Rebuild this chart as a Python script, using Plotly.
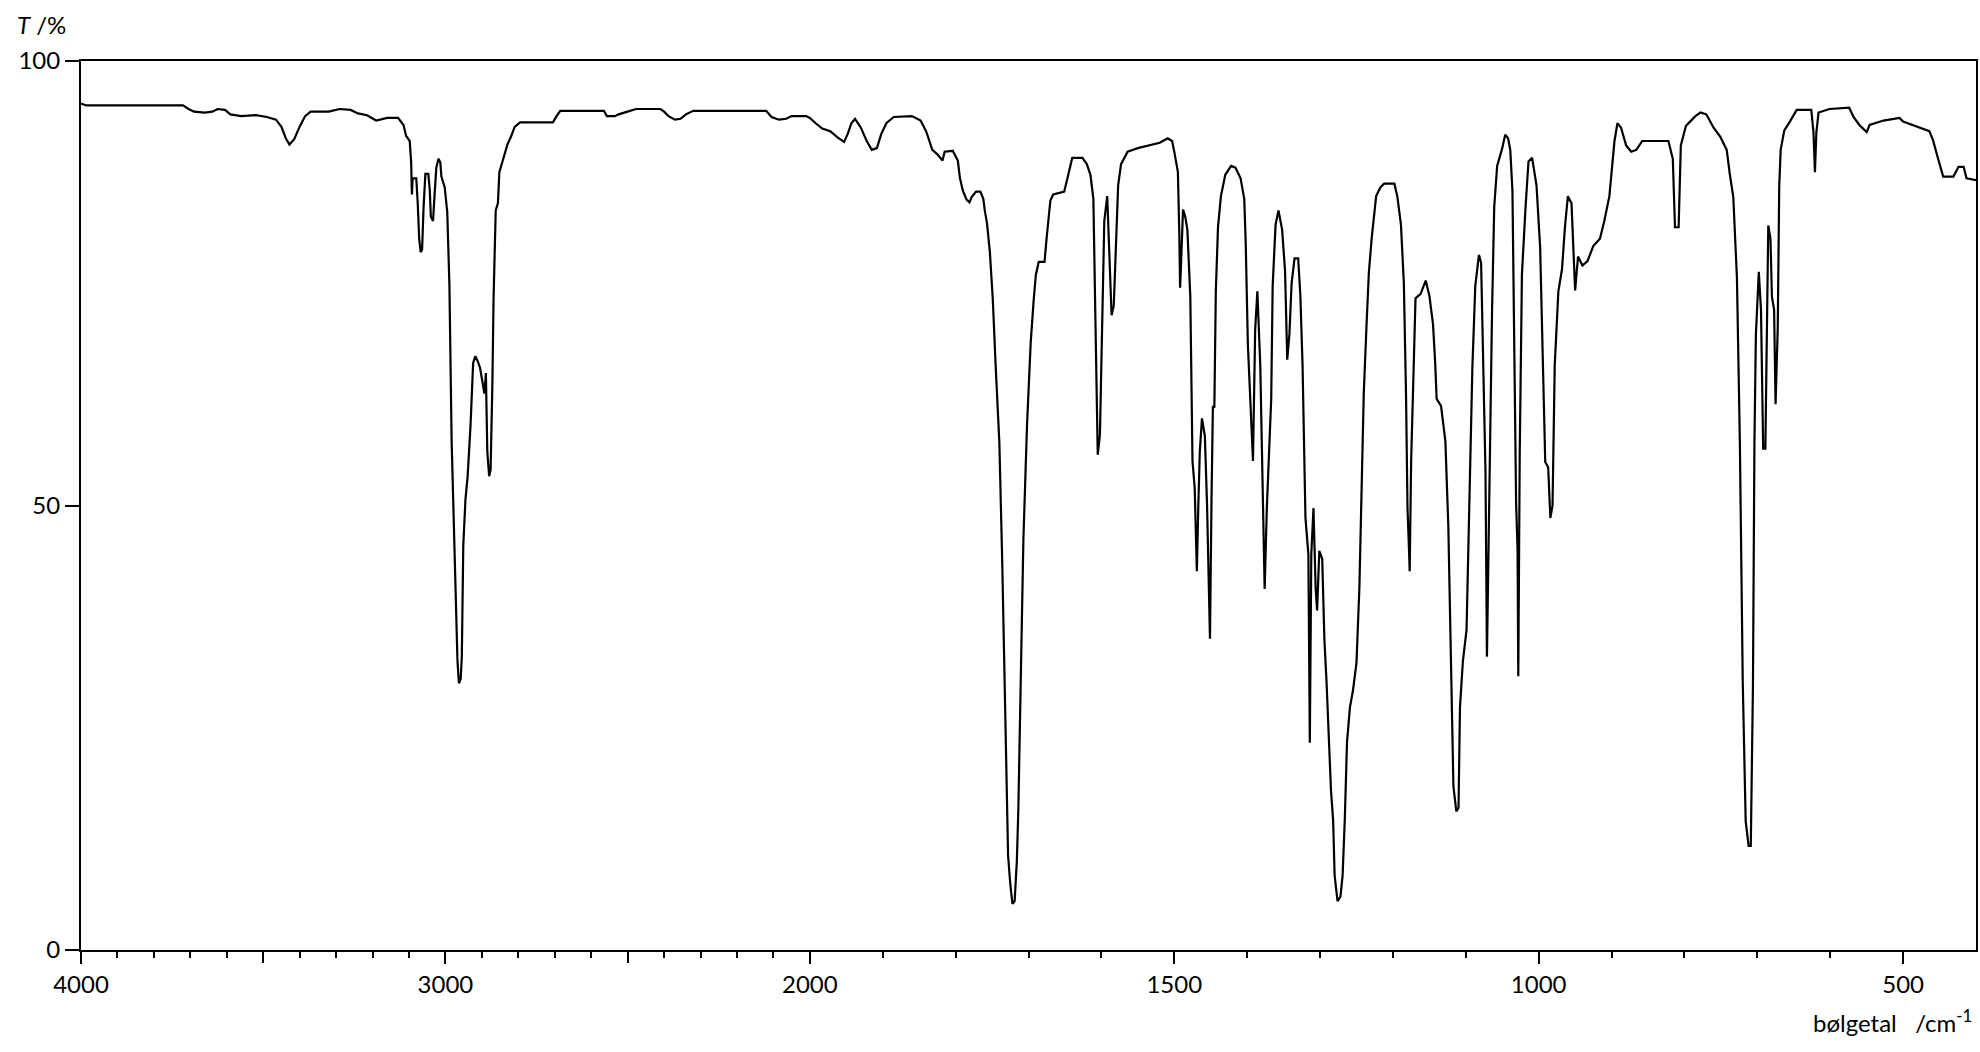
import numpy as np
import plotly.graph_objects as go

# ---- data ----
wavenumber = [
    4000, 3985, 3720, 3705, 3690, 3660, 3640, 3625, 3605, 3590, 3560, 3520, 3490, 3465, 3450, 3438, 3428, 3415,
    3400, 3385, 3370, 3320, 3290, 3260, 3240, 3215, 3190, 3160, 3130, 3115, 3108, 3098, 3094, 3092, 3090, 3080,
    3076, 3072, 3068, 3064, 3060, 3055, 3047, 3043, 3040, 3034, 3030, 3025, 3019, 3014, 3011, 3002, 2995, 2989,
    2983, 2976, 2972, 2967, 2963, 2958, 2955, 2951, 2945, 2939, 2931, 2924, 2918, 2912, 2905, 2898, 2893, 2889,
    2885, 2880, 2876, 2871, 2868, 2862, 2856, 2852, 2845, 2840, 2830, 2820, 2810, 2795, 2705, 2695, 2685, 2565,
    2557, 2535, 2525, 2500, 2477, 2410, 2400, 2388, 2370, 2355, 2340, 2320, 2120, 2105, 2085, 2065, 2050, 2010,
    2000, 1992, 1983, 1972, 1962, 1953, 1948, 1943, 1938, 1930, 1922, 1915, 1908, 1902, 1895, 1885, 1860, 1848,
    1840, 1832, 1825, 1818, 1815, 1804, 1800, 1797, 1794, 1790, 1785, 1781, 1778, 1772, 1766, 1762, 1760, 1757,
    1753, 1749, 1745, 1740, 1736, 1732, 1728, 1725, 1722, 1719, 1716, 1714, 1711, 1707, 1702, 1697, 1693, 1690,
    1686, 1678, 1675, 1670, 1666, 1651, 1646, 1640, 1626, 1620, 1615, 1611, 1608, 1605, 1602, 1599, 1596, 1592,
    1589, 1586, 1583, 1580, 1577, 1573, 1564, 1550, 1535, 1520, 1509, 1503, 1500, 1495, 1493, 1492, 1491, 1488,
    1485, 1482, 1478, 1475, 1472, 1469, 1467, 1465, 1462, 1458, 1455, 1451, 1449, 1447, 1445, 1443, 1440, 1436,
    1430, 1422, 1416, 1409, 1404, 1402, 1399, 1395, 1392, 1389, 1386, 1382, 1378, 1376, 1373, 1370, 1367, 1365,
    1361, 1357, 1352, 1348, 1345, 1342, 1339, 1335, 1330, 1327, 1324, 1320, 1316, 1314, 1312, 1309, 1306, 1304,
    1301, 1297, 1294, 1291, 1288, 1285, 1282, 1280, 1276, 1272, 1269, 1266, 1263, 1259, 1255, 1250, 1246, 1243,
    1240, 1236, 1233, 1229, 1226, 1223, 1217, 1212, 1198, 1194, 1189, 1185, 1182, 1180, 1178, 1177, 1175, 1172,
    1169, 1162, 1155, 1150, 1145, 1142, 1140, 1134, 1128, 1124, 1120, 1117, 1113, 1110, 1108, 1104, 1099, 1095,
    1091, 1087, 1082, 1079, 1076, 1073, 1071, 1069, 1067, 1064, 1061, 1057, 1050, 1046, 1042, 1039, 1036, 1033,
    1031, 1029, 1028, 1026, 1023, 1018, 1014, 1009, 1003, 998, 995, 991, 987, 984, 981, 978, 973, 968,
    964, 960, 955, 950, 946, 940, 933, 925, 916, 910, 903, 899, 896, 892, 887, 880, 873, 866,
    858, 822, 816, 813, 808, 805, 798, 785, 778, 770, 760, 751, 742, 738, 733, 728, 724, 720,
    716, 712, 709, 706, 704, 702, 698, 695, 692, 689, 687, 685, 682, 680, 677, 675, 672, 670,
    668, 663, 656, 646, 626, 623, 621, 619, 616, 601, 574, 568, 560, 550, 546, 527, 505, 500,
    464, 459, 452, 445, 431, 424, 417, 413, 400,
]

transmittance = [
    95.2, 95.0, 95.0, 94.6, 94.3, 94.2, 94.3, 94.6, 94.5, 94.0, 93.8, 93.9, 93.7, 93.4, 92.6, 91.3, 90.6, 91.2,
    92.6, 93.8, 94.3, 94.3, 94.6, 94.5, 94.1, 93.9, 93.3, 93.6, 93.6, 92.8, 91.6, 91.0, 88.6, 85.0, 86.8, 86.8,
    84.0, 80.0, 78.5, 78.8, 83.5, 87.3, 87.3, 85.5, 82.5, 82.0, 84.8, 88.0, 89.0, 88.6, 87.0, 85.8, 83.0, 74.7,
    57.3, 45.0, 38.9, 32.6, 30.0, 30.5, 33.0, 45.5, 50.7, 53.3, 59.1, 66.0, 66.8, 66.3, 65.5, 63.5, 62.6, 64.9,
    56.0, 53.3, 54.0, 64.0, 73.1, 83.2, 84.0, 87.5, 88.5, 89.3, 90.6, 91.5, 92.6, 93.1, 93.1, 93.8, 94.4, 94.4,
    93.8, 93.8, 94.0, 94.3, 94.6, 94.6, 94.3, 93.8, 93.4, 93.5, 94.0, 94.4, 94.4, 93.7, 93.4, 93.5, 93.8, 93.8,
    93.6, 93.0, 92.4, 92.1, 91.4, 90.9, 91.8, 93.0, 93.5, 92.5, 91.0, 90.0, 90.2, 91.8, 93.0, 93.7, 93.8, 93.3,
    92.0, 90.0, 89.5, 88.8, 89.8, 89.9, 89.2, 88.8, 86.8, 85.4, 84.4, 84.1, 84.7, 85.3, 85.3, 84.5, 83.2, 81.8,
    78.5, 73.2, 65.6, 57.1, 43.5, 25.6, 10.6, 7.4, 5.2, 5.5, 10.0, 15.6, 29.0, 46.2, 59.1, 68.3, 73.0, 75.9,
    77.4, 77.4, 80.2, 84.3, 85.0, 85.3, 87.0, 89.1, 89.1, 88.4, 87.2, 84.5, 70.0, 55.7, 58.0, 68.5, 82.0, 84.8,
    78.0, 71.4, 72.5, 80.0, 86.0, 88.4, 89.8, 90.2, 90.5, 90.8, 91.3, 91.0, 89.8, 87.5, 80.2, 74.5, 76.5, 83.3,
    82.5, 81.0, 73.5, 55.0, 52.0, 42.6, 50.0, 56.0, 59.8, 57.8, 50.0, 35.0, 50.0, 61.2, 61.0, 74.1, 81.3, 84.8,
    87.2, 88.2, 88.0, 86.8, 84.5, 79.6, 68.1, 60.0, 55.0, 69.8, 74.1, 65.8, 47.5, 40.6, 49.7, 55.5, 62.0, 74.7,
    81.6, 83.2, 81.0, 76.4, 66.4, 69.3, 75.0, 77.8, 77.8, 73.6, 65.8, 48.6, 44.5, 23.3, 44.5, 49.7, 40.6, 38.2,
    44.9, 44.0, 34.9, 30.0, 24.2, 18.0, 14.5, 8.4, 5.5, 6.0, 8.4, 14.8, 23.4, 27.3, 29.1, 32.3, 40.8, 52.6,
    62.6, 70.7, 76.2, 80.2, 82.2, 84.8, 85.8, 86.2, 86.2, 84.8, 81.6, 75.0, 62.4, 49.7, 45.2, 42.6, 55.0, 64.7,
    73.3, 73.8, 75.3, 73.6, 70.4, 66.0, 62.0, 61.2, 57.2, 47.7, 30.3, 18.4, 15.6, 16.0, 27.3, 32.5, 36.0, 50.3,
    65.5, 74.7, 78.2, 77.3, 67.0, 53.8, 33.0, 45.0, 53.8, 71.9, 83.6, 88.2, 90.2, 91.7, 91.3, 90.0, 85.4, 65.7,
    50.3, 45.0, 30.8, 56.0, 76.0, 83.6, 88.7, 89.1, 86.0, 79.0, 68.0, 54.9, 54.3, 48.6, 50.0, 65.8, 74.1, 76.6,
    81.3, 84.8, 84.0, 74.2, 78.0, 77.0, 77.5, 79.2, 80.0, 82.0, 84.8, 88.0, 91.0, 93.0, 92.5, 90.5, 89.8, 90.0,
    91.0, 91.0, 89.0, 81.3, 81.3, 90.5, 92.7, 93.8, 94.2, 94.0, 92.5, 91.5, 90.0, 87.4, 84.7, 75.6, 57.2, 30.0,
    14.5, 11.7, 11.7, 30.0, 57.0, 69.2, 76.3, 72.0, 56.4, 56.4, 70.0, 81.5, 80.0, 73.5, 72.0, 61.4, 70.0, 85.8,
    90.0, 92.2, 93.1, 94.5, 94.5, 92.0, 87.5, 92.0, 94.2, 94.6, 94.75, 93.7, 92.8, 92.0, 92.8, 93.3, 93.6, 93.2,
    92.1, 91.1, 89.0, 87.0, 87.0, 88.1, 88.1, 86.8, 86.6,
]

labelled_ticks = [4000, 3000, 2000, 1500, 1000, 500]
unlabelled_major_ticks = [3500, 2500]
minor_ticks = [v for v in range(3900, 400, -100) if v not in labelled_ticks]
y_ticks = [0, 50, 100]


# ---- axis with scale change at 2000 cm-1 (2x expansion below) ----
def axis_pos(w):
    w = np.asarray(w, dtype=float)
    return np.where(w >= 2000, 4000 - w, 2000 + 2 * (2000 - w))


FONT = "Lato, 'Open Sans', sans-serif"
FS = 24
x_range = [float(axis_pos(4000)), float(axis_pos(400))]

fig = go.Figure()
fig.add_trace(go.Scatter(
    x=axis_pos(wavenumber),
    y=transmittance,
    mode="lines",
    line=dict(color="black", width=2.2),
    hoverinfo="skip",
    showlegend=False,
))
# invisible helper trace so the overlay axis (long unlabelled ticks) is drawn
fig.add_trace(go.Scatter(
    x=axis_pos([2000]), y=[50], xaxis="x2", mode="markers",
    marker=dict(opacity=0), hoverinfo="skip", showlegend=False,
))

fig.update_layout(
    width=1980,
    height=1052,
    margin=dict(l=81, r=2, t=61, b=102),
    paper_bgcolor="white",
    plot_bgcolor="white",
    font=dict(family=FONT, size=FS, color="black"),
    showlegend=False,
    xaxis=dict(
        range=x_range,
        tickmode="array",
        tickvals=axis_pos(labelled_ticks),
        ticktext=[str(v) for v in labelled_ticks],
        ticks="outside",
        ticklen=12,
        tickwidth=2,
        tickcolor="black",
        minor=dict(tickmode="array", tickvals=axis_pos(minor_ticks), ticks="outside",
                   ticklen=6, tickwidth=2, tickcolor="black", showgrid=False),
        showline=True,
        linecolor="black",
        linewidth=2,
        mirror=True,
        showgrid=False,
        zeroline=False,
        tickfont=dict(family=FONT, size=FS, color="black"),
    ),
    xaxis2=dict(
        range=x_range,
        overlaying="x",
        anchor="y",
        side="bottom",
        tickmode="array",
        tickvals=axis_pos(unlabelled_major_ticks),
        ticks="outside",
        ticklen=12,
        tickwidth=2,
        tickcolor="black",
        showticklabels=False,
        showline=False,
        showgrid=False,
        zeroline=False,
    ),
    yaxis=dict(
        range=[0, 100],
        tickmode="array",
        tickvals=y_ticks,
        ticktext=[str(v) for v in y_ticks],
        ticks="outside",
        ticklen=14,
        tickwidth=2,
        tickcolor="black",
        showline=True,
        linecolor="black",
        linewidth=2,
        mirror=True,
        showgrid=False,
        zeroline=False,
        tickfont=dict(family=FONT, size=FS, color="black"),
    ),
)

fig.add_annotation(
    text="<i>T</i> /%", xref="paper", yref="paper",
    x=-0.035, y=1.041, xanchor="left", yanchor="middle",
    showarrow=False, font=dict(family=FONT, size=FS, color="black"),
)
fig.add_annotation(
    text="bølgetal&nbsp;&nbsp; /cm<sup>-1</sup>", xref="paper", yref="paper",
    x=0.999, y=-0.08, xanchor="right", yanchor="middle",
    showarrow=False, font=dict(family=FONT, size=FS, color="black"),
)

fig.write_html(
    "out.html",
    config={"displayModeBar": False},
    post_script="document.body.style.margin='0';document.body.style.padding='0';",
)
